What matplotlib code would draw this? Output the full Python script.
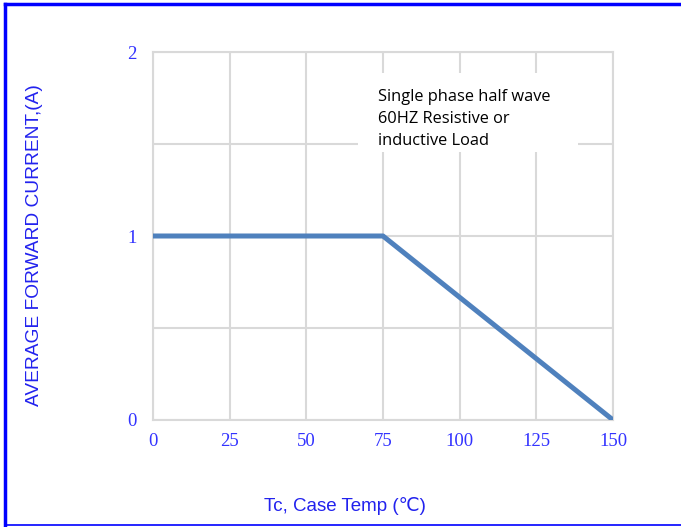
import matplotlib
matplotlib.use("Agg")
import matplotlib.pyplot as plt
from matplotlib.lines import Line2D
from matplotlib.patches import Rectangle

# derating curve data
temps = [0, 75, 150]
current = [1, 1, 0]
xticks = [0, 25, 50, 75, 100, 125, 150]
yticks = [0, 1, 2]
note = "Single phase half wave\n60HZ Resistive or\ninductive Load"

blue_txt = "#3333FF"
grid_c = "#D9D9D9"


def main():
    fig = plt.figure(figsize=(6.81, 5.27), dpi=100)
    ax = fig.add_axes([153 / 681, 1 - 420 / 527, 460 / 681, 368 / 527])

    ax.plot(temps, current, color="#4F81BD", linewidth=3.6, solid_capstyle="butt", zorder=3)

    ax.set_xlim(0, 150)
    ax.set_ylim(0, 2)
    ax.set_xticks(xticks)
    ax.set_yticks(yticks)
    ax.set_yticks([0.5, 1.5], minor=True)
    ax.grid(True, which="both", color=grid_c, linewidth=1.5)
    ax.tick_params(which="both", length=0)
    ax.tick_params(axis="x", pad=9)
    ax.tick_params(axis="y", pad=12)
    for lab in ax.get_xticklabels() + ax.get_yticklabels():
        lab.set_family("Liberation Serif")
        lab.set_fontsize(13.5)
        lab.set_color(blue_txt)
    for sp in ax.spines.values():
        sp.set_color(grid_c)
        sp.set_linewidth(1.5)

    # white text box hiding the grid behind the note
    ax.add_patch(Rectangle((66.8, 1.457), 71.8, 0.43, facecolor="white", edgecolor="none", zorder=2.5))
    ax.text(73.5, 1.635, note, fontsize=11.8, family="Open Sans", color="black",
            va="center", ha="left", linespacing=1.52, zorder=4)

    fig.text(345 / 681, 1 - 506 / 527, "Tc, Case Temp (\u2103)", ha="center", va="center",
             fontsize=13.5, color="#2222EE", family=["Liberation Sans", "DejaVu Sans"])
    fig.text(35 / 681, 1 - 245 / 527, "AVERAGE FORWARD CURRENT,(A)", ha="center", va="center",
             rotation=90, fontsize=13.8, color="#2222EE", family="Liberation Sans")

    # blue frame around the picture (top, left, bottom)
    fig.add_artist(Line2D([5 / 681, 1], [1 - 4 / 527, 1 - 4 / 527], color="#0000FF", linewidth=2.5,
                          transform=fig.transFigure))
    fig.add_artist(Line2D([5 / 681, 5 / 681], [1 - 4 / 527, 1 - 525 / 527], color="#0000FF", linewidth=2.5,
                          transform=fig.transFigure))
    fig.add_artist(Line2D([5 / 681, 1], [1 - 525 / 527, 1 - 525 / 527], color="#0000FF", linewidth=1.2,
                          transform=fig.transFigure))

    fig.savefig("out.png", dpi=100)


if __name__ == "__main__":
    main()
